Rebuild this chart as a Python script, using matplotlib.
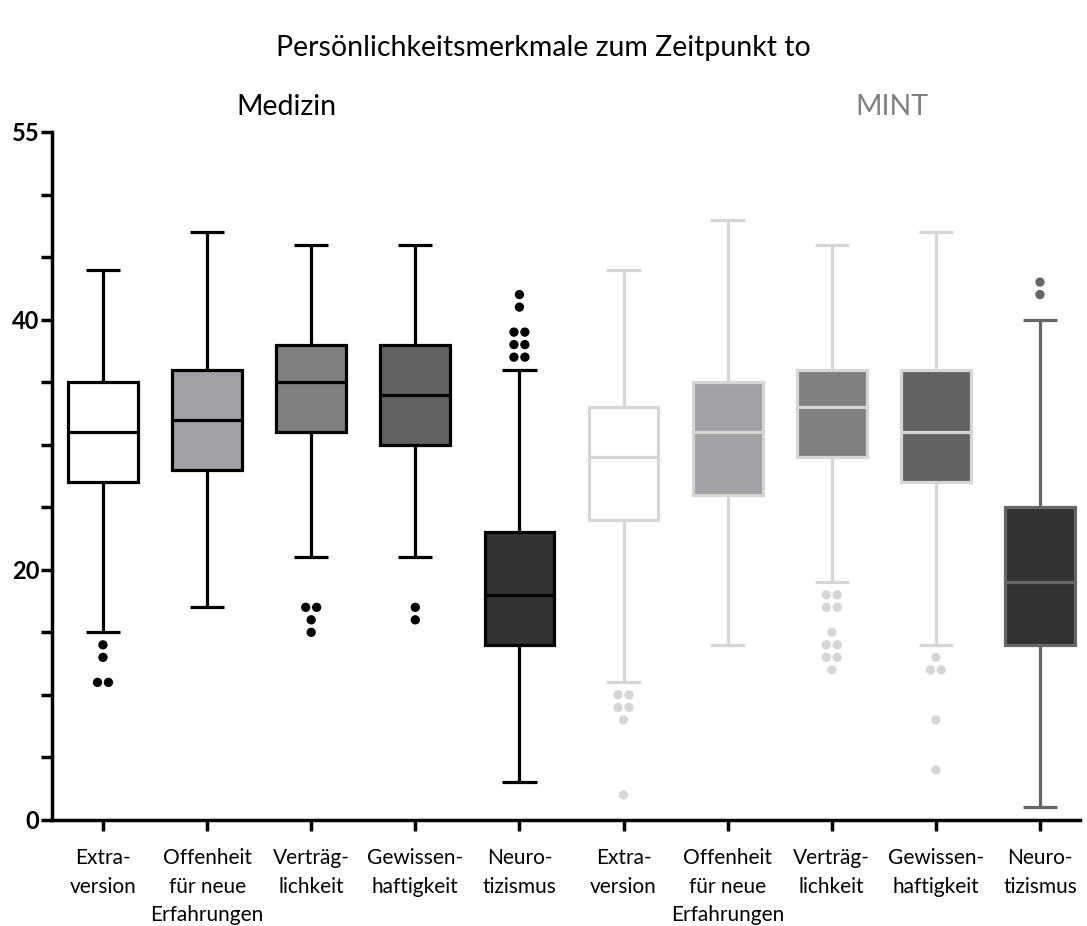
import numpy as np
import matplotlib.pyplot as plt
from collections import Counter

# ==============================================================================
# DATEN
# ==============================================================================
labels = ["Extra-\nversion", "Offenheit\nfür neue\nErfahrungen", "Verträg-\nlichkeit",
          "Gewissen-\nhaftigkeit", "Neuro-\ntizismus"] * 2
groups = ["Medizin", "MINT"]

med_q1 = [27, 28, 31, 30, 14]
med_median = [31, 32, 35, 34, 18]
med_q3 = [35, 36, 38, 38, 23]
med_low = [15, 17, 21, 21, 3]
med_high = [44, 47, 46, 46, 36]
med_out = [[14, 13, 11, 11], [], [17, 17, 16, 15], [17, 16],
           [42, 41, 39, 39, 38, 38, 37, 37]]

mint_q1 = [24, 26, 29, 27, 14]
mint_median = [29, 31, 33, 31, 19]
mint_q3 = [33, 35, 36, 36, 25]
mint_low = [11, 14, 19, 14, 1]
mint_high = [44, 48, 46, 47, 40]
mint_out = [[10, 10, 9, 9, 8, 2], [], [18, 18, 17, 17, 15, 14, 14, 13, 13, 12],
            [13, 12, 12, 8, 4], [43, 42]]

face_colors = ["#ffffff", "#a1a1a5", "#808080", "#626262", "#333333"]
med_edge = ["#000000"] * 5
mint_edge = ["#d6d6d6"] * 4 + ["#666666"]

plt.rcParams['font.family'] = ['Lato', 'DejaVu Sans']

fig = plt.figure(figsize=(10.87, 9.26), dpi=100)
ax = fig.add_axes([0.0478, 0.1145, 0.9458, 0.743])

q1 = med_q1 + mint_q1
median = med_median + mint_median
q3 = med_q3 + mint_q3
low = med_low + mint_low
high = med_high + mint_high
outliers = med_out + mint_out
edges = med_edge + mint_edge
faces = face_colors * 2

lw = 2.3
for i in range(10):
    stats = [dict(med=median[i], q1=q1[i], q3=q3[i], whislo=low[i], whishi=high[i], fliers=[])]
    ec = edges[i]
    ax.bxp(stats, positions=[i], widths=0.67, capwidths=0.33, showfliers=False,
           patch_artist=True,
           boxprops=dict(facecolor=faces[i], edgecolor=ec, linewidth=lw),
           medianprops=dict(color=ec, linewidth=lw),
           whiskerprops=dict(color=ec, linewidth=lw, solid_capstyle='butt'),
           capprops=dict(color=ec, linewidth=lw, solid_capstyle='butt'))
    # Ausreißer: gleiche Werte nebeneinander
    counts = Counter(outliers[i])
    xs, ys = [], []
    for v, n in counts.items():
        offs = (np.arange(n) - (n - 1) / 2) * 0.105
        xs.extend(i + offs)
        ys.extend([v] * n)
    ax.scatter(xs, ys, s=45, color=ec, edgecolors='none', zorder=3)

ax.set_xlim(-0.49, 9.385)
ax.set_ylim(0, 55)
ax.set_xticks(range(10))
ax.set_xticklabels(labels, fontsize=15, linespacing=1.55, va='top')
ax.set_yticks(np.arange(0, 56, 5))
ax.set_yticklabels(["0", "", "", "", "20", "", "", "", "40", "", "", "55"],
                   fontsize=17, fontweight='bold')

for s in ['top', 'right']:
    ax.spines[s].set_visible(False)
for s in ['left', 'bottom']:
    ax.spines[s].set_linewidth(2.5)
ax.tick_params(axis='both', width=2.5, length=8, direction='out')
ax.tick_params(axis='x', pad=12)
ax.tick_params(axis='y', pad=1)

fig.text(0.5, 0.948, "Persönlichkeitsmerkmale zum Zeitpunkt to", ha='center', va='center',
         fontsize=20.5)
ax.text(1.76, 57.0, groups[0], ha='center', va='center', fontsize=20.5, color='black')
ax.text(7.58, 57.0, groups[1], ha='center', va='center', fontsize=20.5, color='#808080')

plt.savefig("out.png", dpi=100)
